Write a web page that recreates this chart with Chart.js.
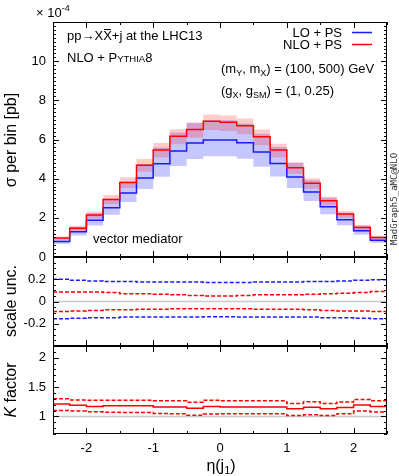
<!DOCTYPE html>
<html>
<head>
<meta charset="utf-8">
<script src="https://cdn.jsdelivr.net/npm/chart.js@4/dist/chart.umd.min.js"></script>
<style>
  html, body { margin: 0; padding: 0; background: #fff; }
  #wrap { position: relative; width: 399px; height: 476px; }
  #wrap canvas { position: absolute; left: 0; top: 0; }
</style>
</head>
<body>
<div id="wrap">
  <canvas id="mainPanel" width="399" height="476"></canvas>
  <canvas id="uncPanel" width="399" height="476"></canvas>
  <canvas id="kPanel" width="399" height="476"></canvas>
</div>
<script>
// eta(j1) bin edges
const binEdges = [-2.5, -2.25, -2.0, -1.75, -1.5, -1.25, -1.0, -0.75, -0.5, -0.25, 0,
                  0.25, 0.5, 0.75, 1.0, 1.25, 1.5, 1.75, 2.0, 2.25, 2.5];

// sigma per bin, units of 1e-4 pb
const loXsec  = [0.79, 1.29, 1.88, 2.52, 3.27, 4.04, 4.76, 5.41, 5.82, 5.97,
                 5.97, 5.83, 5.36, 4.78, 4.09, 3.32, 2.56, 1.90, 1.34, 0.86];
const nloXsec = [0.97, 1.47, 2.14, 2.93, 3.80, 4.68, 5.46, 6.16, 6.51, 6.93,
                 6.88, 6.70, 6.14, 5.46, 4.56, 3.77, 2.87, 2.19, 1.51, 1.00];

// relative scale uncertainty
const loUncUp    = [0.20, 0.19, 0.185, 0.18, 0.18, 0.175, 0.175, 0.175, 0.175, 0.17,
                    0.17, 0.17, 0.175, 0.175, 0.175, 0.18, 0.18, 0.185, 0.19, 0.195];
const loUncDown  = [-0.155, -0.15, -0.145, -0.145, -0.14, -0.14, -0.14, -0.14, -0.14, -0.138,
                    -0.138, -0.14, -0.14, -0.14, -0.14, -0.14, -0.145, -0.145, -0.15, -0.155];
const nloUncUp   = [0.085, 0.085, 0.085, 0.08, 0.07, 0.07, 0.065, 0.06, 0.055, 0.05,
                    0.05, 0.055, 0.06, 0.06, 0.06, 0.065, 0.07, 0.075, 0.08, 0.09];
const nloUncDown = [-0.09, -0.085, -0.08, -0.075, -0.075, -0.07, -0.07, -0.065, -0.065, -0.065,
                    -0.065, -0.065, -0.07, -0.07, -0.07, -0.075, -0.08, -0.085, -0.085, -0.09];

// K factor and its band
const kFactor = [1.21, 1.19, 1.17, 1.18, 1.18, 1.18, 1.16, 1.16, 1.14, 1.17,
                 1.16, 1.16, 1.16, 1.16, 1.13, 1.155, 1.13, 1.15, 1.195, 1.17];
const kUp     = [1.30, 1.28, 1.275, 1.275, 1.275, 1.275, 1.265, 1.265, 1.24, 1.275,
                 1.265, 1.265, 1.265, 1.265, 1.22, 1.25, 1.22, 1.245, 1.29, 1.265];
const kDown   = [1.10, 1.09, 1.08, 1.07, 1.065, 1.065, 1.05, 1.045, 1.02, 1.04,
                 1.045, 1.045, 1.045, 1.045, 1.015, 1.03, 1.015, 1.045, 1.09, 1.075];

// tick labels
const etaTicks  = [-2, -1, 0, 1, 2];
const mainTicks = [0, 2, 4, 6, 8, 10];
const uncTicks  = [-0.2, 0, 0.2];
const kTicks    = [1, 1.5, 2];

const FONT = "'Liberation Sans', Arial, sans-serif";
const RED = '#ff0000';
const BLUE = '#1a1aff';

function steps(vals) {
  const pts = vals.map((v, i) => ({x: binEdges[i], y: v}));
  pts.push({x: binEdges[binEdges.length - 1], y: vals[vals.length - 1]});
  return pts;
}

function lineSet(vals, color, width, dash, order) {
  return {data: steps(vals), stepped: true, borderColor: color, borderWidth: width,
          borderDash: dash || [], pointRadius: 0, fill: false, order: order};
}

function bandSets(upper, lower, color, order) {
  return [
    {data: steps(upper), stepped: true, borderColor: 'rgba(0,0,0,0)', borderWidth: 1,
     pointRadius: 0, fill: false, order: order},
    {data: steps(lower), stepped: true, borderColor: 'rgba(0,0,0,0)', borderWidth: 1,
     pointRadius: 0, fill: '-1', backgroundColor: color, order: order}
  ];
}

// draws pieces of text one after another, for sub/superscripts
function rich(ctx, parts, x, y, align) {
  let total = 0;
  parts.forEach(p => {
    ctx.font = (p.style || '') + ' ' + (p.size || 13) + 'px ' + FONT;
    p.w = ctx.measureText(p.t).width;
    total += p.w;
  });
  let cx = align === 'right' ? x - total : align === 'center' ? x - total / 2 : x;
  ctx.textBaseline = 'alphabetic';
  ctx.textAlign = 'left';
  parts.forEach(p => {
    ctx.font = (p.style || '') + ' ' + (p.size || 13) + 'px ' + FONT;
    ctx.fillText(p.t, cx, y + (p.dy || 0));
    if (p.bar) {
      ctx.fillRect(cx + 1, y - 11, p.w - 2, 1);
    }
    cx += p.w;
  });
}

function frame(chart, spec) {
  const {ctx, chartArea: a} = chart;
  const xs = chart.scales.x, ys = chart.scales.y;
  ctx.save();
  ctx.strokeStyle = '#000';
  ctx.lineWidth = 1;
  ctx.strokeRect(a.left + 0.5, a.top + 0.5, a.right - a.left - 1, a.bottom - a.top - 1);
  const seg = (x1, y1, x2, y2) => { ctx.beginPath(); ctx.moveTo(x1, y1); ctx.lineTo(x2, y2); ctx.stroke(); };
  // x ticks every 0.5, major at integers
  for (let i = 0; i <= 10; i++) {
    const v = -2.5 + i * 0.5;
    const px = Math.round(xs.getPixelForValue(v)) + 0.5;
    const len = Math.abs(v - Math.round(v)) < 1e-6 ? 6 : 3;
    seg(px, a.bottom, px, a.bottom - len);
    seg(px, a.top, px, a.top + len);
  }
  // y ticks
  const n = Math.round((ys.max - ys.min) / spec.minor);
  for (let i = 0; i <= n; i++) {
    const v = ys.min + i * spec.minor;
    const r = v / spec.major;
    const len = Math.abs(r - Math.round(r)) < 1e-6 ? 6 : 3;
    const py = Math.round(ys.getPixelForValue(v)) + 0.5;
    seg(a.left, py, a.left + len, py);
    seg(a.right, py, a.right - len, py);
  }
  // y tick labels
  ctx.fillStyle = '#000';
  ctx.font = '13px ' + FONT;
  ctx.textAlign = 'right';
  ctx.textBaseline = 'middle';
  spec.labels.forEach(v => {
    ctx.fillText(spec.fmt ? spec.fmt(v) : String(v), 46, ys.getPixelForValue(v));
  });
  // axis title
  ctx.save();
  ctx.translate(11, spec.titleY);
  ctx.rotate(-Math.PI / 2);
  rich(ctx, spec.title, 0, 5, 'center');
  ctx.restore();
  ctx.restore();
}

function refLine(chart, value) {
  const {ctx, chartArea: a} = chart;
  const py = chart.scales.y.getPixelForValue(value);
  ctx.save();
  ctx.strokeStyle = '#c8c8c8';
  ctx.lineWidth = 1.5;
  ctx.beginPath();
  ctx.moveTo(a.left, py);
  ctx.lineTo(a.right, py);
  ctx.stroke();
  ctx.restore();
}

function baseOptions(padTop, padBottom, yMin, yMax) {
  return {
    responsive: false,
    animation: false,
    events: [],
    layout: {padding: {left: 53, right: 12, top: padTop, bottom: padBottom}},
    plugins: {legend: {display: false}, tooltip: {enabled: false}},
    scales: {
      x: {type: 'linear', min: -2.5, max: 2.5, display: false},
      y: {type: 'linear', min: yMin, max: yMax, display: false}
    }
  };
}

// ---- main panel ----
const loBandUp = loXsec.map((v, i) => v * (1 + loUncUp[i]));
const loBandDown = loXsec.map((v, i) => v * (1 + loUncDown[i]));
const nloBandUp = nloXsec.map((v, i) => v * (1 + nloUncUp[i]));
const nloBandDown = nloXsec.map((v, i) => v * (1 + nloUncDown[i]));

new Chart(document.getElementById('mainPanel'), {
  type: 'line',
  data: {
    datasets: [
      ...bandSets(loBandUp, loBandDown, 'rgba(0,0,255,0.22)', 3),
      ...bandSets(nloBandUp, nloBandDown, 'rgba(255,0,0,0.2)', 2),
      lineSet(loXsec, BLUE, 1.5, null, 1),
      lineSet(nloXsec, RED, 1.5, null, 0)
    ]
  },
  options: baseOptions(22, 219, 0, 12),
  plugins: [{
    id: 'mainDeco',
    afterDraw(chart) {
      const ctx = chart.ctx;
      frame(chart, {minor: 0.2, major: 2, labels: mainTicks, titleY: 140,
        title: [{t: 'σ per bin [pb]', size: 16}]});
      ctx.save();
      ctx.fillStyle = '#000';
      rich(ctx, [{t: '× 10', size: 13}, {t: '-4', size: 9, dy: -6}], 36, 17, 'left');
      rich(ctx, [{t: 'pp→X', size: 13}, {t: 'X', size: 13, bar: true}, {t: '+j at the LHC13', size: 13}], 67, 40, 'left');
      rich(ctx, [{t: 'NLO + P', size: 13}, {t: 'YTHIA', size: 9.5}, {t: '8', size: 13}], 67, 62, 'left');
      rich(ctx, [{t: 'LO + PS', size: 13}], 342, 37, 'right');
      rich(ctx, [{t: 'NLO + PS', size: 13}], 342, 49, 'right');
      ctx.lineWidth = 1.5;
      ctx.strokeStyle = BLUE;
      ctx.beginPath(); ctx.moveTo(352, 32.5); ctx.lineTo(372, 32.5); ctx.stroke();
      ctx.strokeStyle = RED;
      ctx.beginPath(); ctx.moveTo(352, 44.5); ctx.lineTo(372, 44.5); ctx.stroke();
      rich(ctx, [{t: '(m', size: 13}, {t: 'Y', size: 9, dy: 3}, {t: ', m', size: 13},
                 {t: 'X', size: 9, dy: 3}, {t: ') = (100, 500) GeV', size: 13}], 221, 73, 'left');
      rich(ctx, [{t: '(g', size: 13}, {t: 'X', size: 9, dy: 3}, {t: ', g', size: 13},
                 {t: 'SM', size: 9, dy: 3}, {t: ') = (1, 0.25)', size: 13}], 221, 95, 'left');
      rich(ctx, [{t: 'vector mediator', size: 13}], 93, 243, 'left');
      ctx.save();
      ctx.translate(395, 199);
      ctx.rotate(-Math.PI / 2);
      ctx.fillStyle = '#333';
      ctx.font = "9px 'DejaVu Sans Mono', monospace";
      ctx.textAlign = 'center';
      ctx.textBaseline = 'middle';
      ctx.fillText('MadGraph5_aMC@NLO', 0, 0);
      ctx.restore();
      ctx.restore();
    }
  }]
});

// ---- scale uncertainty panel ----
new Chart(document.getElementById('uncPanel'), {
  type: 'line',
  data: {
    datasets: [
      lineSet(loUncUp, BLUE, 1.5, [4, 2], 1),
      lineSet(loUncDown, BLUE, 1.5, [4, 2], 1),
      lineSet(nloUncUp, RED, 1.5, [4, 2], 0),
      lineSet(nloUncDown, RED, 1.5, [4, 2], 0)
    ]
  },
  options: baseOptions(257, 130, -0.4, 0.4),
  plugins: [{
    id: 'uncDeco',
    beforeDatasetsDraw(chart) { refLine(chart, 0); },
    afterDraw(chart) {
      frame(chart, {minor: 0.05, major: 0.2, labels: uncTicks, titleY: 301,
        fmt: v => (v === 0 ? '0' : v.toFixed(1)),
        title: [{t: 'scale unc.', size: 16}]});
    }
  }]
});

// ---- K factor panel ----
new Chart(document.getElementById('kPanel'), {
  type: 'line',
  data: {
    datasets: [
      lineSet(kFactor, RED, 1.5, null, 0),
      lineSet(kUp, RED, 1.5, [4, 2], 0),
      lineSet(kDown, RED, 1.5, [4, 2], 0)
    ]
  },
  options: baseOptions(346, 42, 0.7, 2.2),
  plugins: [{
    id: 'kDeco',
    beforeDatasetsDraw(chart) { refLine(chart, 1); },
    afterDraw(chart) {
      const ctx = chart.ctx;
      frame(chart, {minor: 0.1, major: 0.5, labels: kTicks, titleY: 390,
        title: [{t: 'K', size: 16, style: 'italic'}, {t: ' factor', size: 16}]});
      ctx.save();
      ctx.fillStyle = '#000';
      ctx.font = '13px ' + FONT;
      ctx.textAlign = 'center';
      ctx.textBaseline = 'middle';
      etaTicks.forEach(v => ctx.fillText(String(v), chart.scales.x.getPixelForValue(v), 448));
      rich(ctx, [{t: 'η(j', size: 16}, {t: '1', size: 11, dy: 3}, {t: ')', size: 16}], 221, 471, 'center');
      ctx.restore();
    }
  }]
});
</script>
</body>
</html>
